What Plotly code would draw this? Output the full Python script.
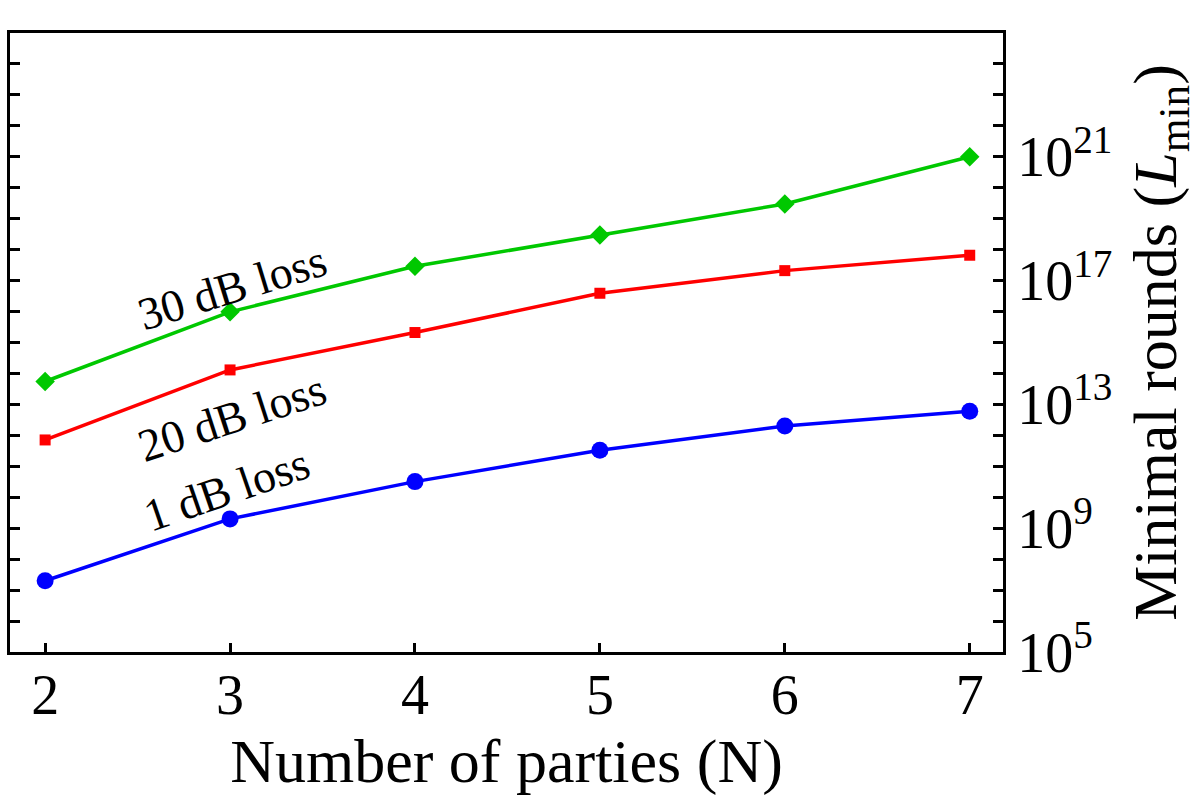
import plotly.graph_objects as go

parties = [2, 3, 4, 5, 6, 7]
loss_1db = [2.0e7, 2.0e9, 3.2e10, 3.3e11, 2.0e12, 6.0e12]
loss_20db = [7.1e11, 1.3e14, 2.1e15, 3.9e16, 2.1e17, 6.6e17]
loss_30db = [5.5e13, 9.8e15, 2.9e17, 3.0e18, 3.0e19, 1.0e21]
labelled_exponents = [5, 9, 13, 17, 21]
all_exponents = list(range(5, 25))

FONT = "Liberation Serif"

fig = go.Figure()
fig.add_trace(go.Scatter(x=parties, y=loss_1db, mode="lines+markers",
                         line=dict(color="#0000FF", width=3.5),
                         marker=dict(symbol="circle", size=17, color="#0000FF")))
fig.add_trace(go.Scatter(x=parties, y=loss_20db, mode="lines+markers",
                         line=dict(color="#FF0000", width=3.5),
                         marker=dict(symbol="square", size=11, color="#FF0000")))
fig.add_trace(go.Scatter(x=parties, y=loss_30db, mode="lines+markers",
                         line=dict(color="#00C800", width=3.5),
                         marker=dict(symbol="diamond", size=15, color="#00C800")))

major_vals = [10.0 ** e for e in labelled_exponents]
major_text = [f"10<sup>{e}</sup>" for e in labelled_exponents]
minor_vals = [10.0 ** e for e in all_exponents if e not in labelled_exponents]

fig.update_layout(
    width=1200, height=807,
    margin=dict(l=7, r=197, t=33, b=155),
    plot_bgcolor="white", paper_bgcolor="white",
    showlegend=False,
    font=dict(family=FONT, color="black", size=56),
    xaxis=dict(range=[1.81, 7.18], tickvals=parties, ticks="inside", ticklen=9, tickwidth=3,
               tickcolor="black", showline=True, linecolor="black", linewidth=3, mirror=True,
               showgrid=False, zeroline=False, tickfont=dict(size=56, family=FONT),
               ticklabelstandoff=-8,
               title=dict(text="Number of parties (N)", font=dict(size=62, family=FONT), standoff=14)),
    yaxis=dict(type="log", range=[5, 25], side="right", tickvals=major_vals, ticktext=major_text,
               ticks="inside", ticklen=10, tickwidth=3, tickcolor="black",
               minor=dict(tickvals=minor_vals, ticks="inside", ticklen=10, tickwidth=3,
                          tickcolor="black", showgrid=False),
               showline=True, linecolor="black", linewidth=3, mirror="ticks",
               showgrid=False, zeroline=False, tickfont=dict(size=56, family=FONT),
               title=dict(text="Minimal rounds (<i>L</i><sub>min</sub>)", font=dict(size=62, family=FONT),
                          standoff=22)),
)

fig.add_annotation(x=3.01, y=16.79, xref="x", yref="y", text="30 dB loss", showarrow=False,
                   textangle=-17, font=dict(size=46, family=FONT))
fig.add_annotation(x=3.01, y=12.58, xref="x", yref="y", text="20 dB loss", showarrow=False,
                   textangle=-18, font=dict(size=46, family=FONT))
fig.add_annotation(x=2.98, y=10.26, xref="x", yref="y", text="1 dB loss", showarrow=False,
                   textangle=-19, font=dict(size=46, family=FONT))

fig.write_html("out.html")
